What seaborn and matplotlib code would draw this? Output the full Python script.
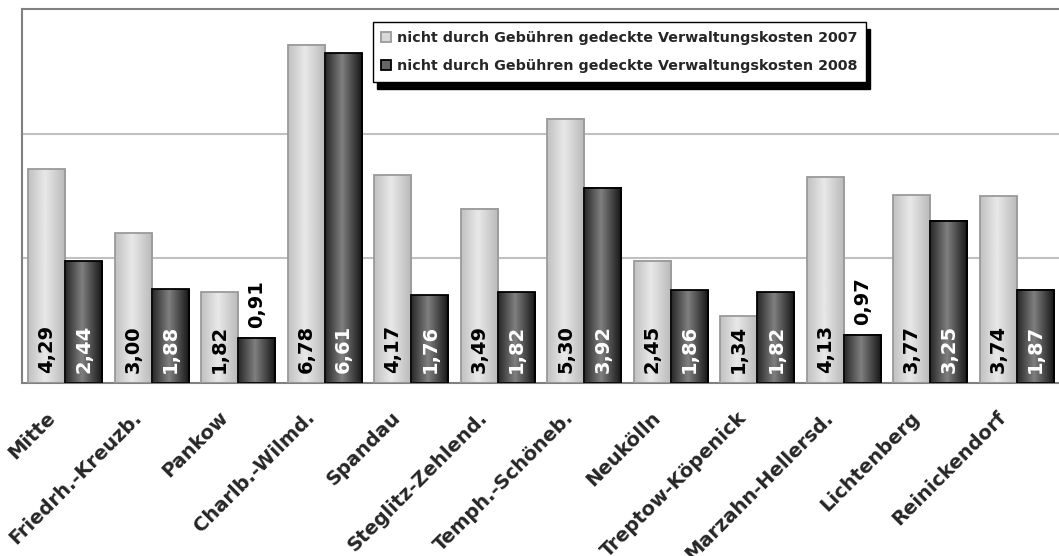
import numpy as np
import pandas as pd
import seaborn as sns
import matplotlib.pyplot as plt
from matplotlib.transforms import ScaledTranslation

bezirke = ['Mitte', 'Friedrh.-Kreuzb.', 'Pankow', 'Charlb.-Wilmd.', 'Spandau',
           'Steglitz-Zehlend.', 'Temph.-Schöneb.', 'Neukölln', 'Treptow-Köpenick',
           'Marzahn-Hellersd.', 'Lichtenberg', 'Reinickendorf']
kosten_2007 = [4.29, 3.00, 1.82, 6.78, 4.17, 3.49, 5.30, 2.45, 1.34, 4.13, 3.77, 3.74]
kosten_2008 = [2.44, 1.88, 0.91, 6.61, 1.76, 1.82, 3.92, 1.86, 1.82, 0.97, 3.25, 1.87]
serien = ['nicht durch Gebühren gedeckte Verwaltungskosten 2007',
          'nicht durch Gebühren gedeckte Verwaltungskosten 2008']

df = pd.DataFrame({
    'bezirk': bezirke * 2,
    'wert': kosten_2007 + kosten_2008,
    'serie': [serien[0]] * len(bezirke) + [serien[1]] * len(bezirke),
})

sns.set_style('white')
plt.rcParams['font.family'] = ['DejaVu Sans']

fig = plt.figure(figsize=(10.59, 5.56), dpi=100)
ax = fig.add_axes([22 / 1059, 1 - 383 / 556, 1038 / 1059, 374 / 556])

sns.barplot(data=df, x='bezirk', y='wert', hue='serie', hue_order=serien,
            palette=['#d9d9d9', '#666666'], width=0.86, gap=0,
            saturation=1, ax=ax, legend=True)

ax.set_ylim(0, 7.5)
xlim = ax.get_xlim()

# zylinderartiger Verlauf auf jedem Balken
t = np.linspace(0, 1, 40)
prof = 1 - np.abs(t - 0.45) * 2
hell = (0.74 + 0.17 * prof).reshape(1, -1)
dunkel = (0.12 + 0.38 * prof).reshape(1, -1)

n = len(bezirke)
bars = ax.patches[:2 * n]
for i, p in enumerate(bars):
    x, w, h = p.get_x(), p.get_width(), p.get_height()
    g = hell if i < n else dunkel
    ax.imshow(g, extent=[x, x + w, 0, h], cmap='gray', vmin=0, vmax=1,
              aspect='auto', zorder=2, interpolation='bilinear')
    p.set_facecolor('none')
    p.set_zorder(3)
    p.set_linewidth(1.3)
    p.set_edgecolor('#9a9a9a' if i < n else '#000000')

ax.set_xlim(xlim)
ax.set_ylim(0, 7.5)

# Werte-Beschriftungen
for i, p in enumerate(bars):
    v = p.get_height()
    xc = p.get_x() + p.get_width() / 2
    txt = f'{v:.2f}'.replace('.', ',')
    if v < 1.2:
        ax.text(xc, v + 0.2, txt, rotation=90, ha='center', va='bottom',
                fontsize=14, fontweight='bold', color='black', zorder=5)
    else:
        ax.text(xc, 0.2, txt, rotation=90, ha='center', va='bottom',
                fontsize=14, fontweight='bold',
                color='black' if i < n else 'white', zorder=5)

ax.set_yticks([2.5, 5.0])
ax.set_yticklabels([])
ax.grid(axis='y', color='#c0c0c0', linewidth=1.5)
ax.set_axisbelow(True)
ax.tick_params(axis='both', length=0)
ax.set_xlabel('')
ax.set_ylabel('')

for s in ['left', 'top', 'bottom']:
    ax.spines[s].set_color('#808080')
    ax.spines[s].set_linewidth(1.5)
ax.spines['right'].set_visible(False)

ax.set_xticks(range(n))
ax.set_xticklabels(bezirke, rotation=45, ha='right', rotation_mode='anchor',
                   fontsize=14, fontweight='bold')
offset = ScaledTranslation(-0.2, -0.2, fig.dpi_scale_trans)
for lab in ax.get_xticklabels():
    lab.set_transform(lab.get_transform() + offset)

handles, labels = ax.get_legend_handles_labels()
for h, ec in zip(handles, ['#9a9a9a', '#000000']):
    h.set_edgecolor(ec)
    h.set_linewidth(1.3)
leg = ax.legend(handles, labels, loc='upper left', bbox_to_anchor=(0.338, 0.965),
                prop={'weight': 'bold', 'size': 10.3},
                frameon=True, fancybox=False, edgecolor='black',
                shadow={'color': 'black', 'alpha': 1, 'ox': 3, 'oy': -5},
                handlelength=0.7, handleheight=0.7, handletextpad=0.4,
                borderpad=0.6, labelspacing=1.0, borderaxespad=0)
leg.get_frame().set_linewidth(1.0)

fig.savefig('out.png', dpi=100)
